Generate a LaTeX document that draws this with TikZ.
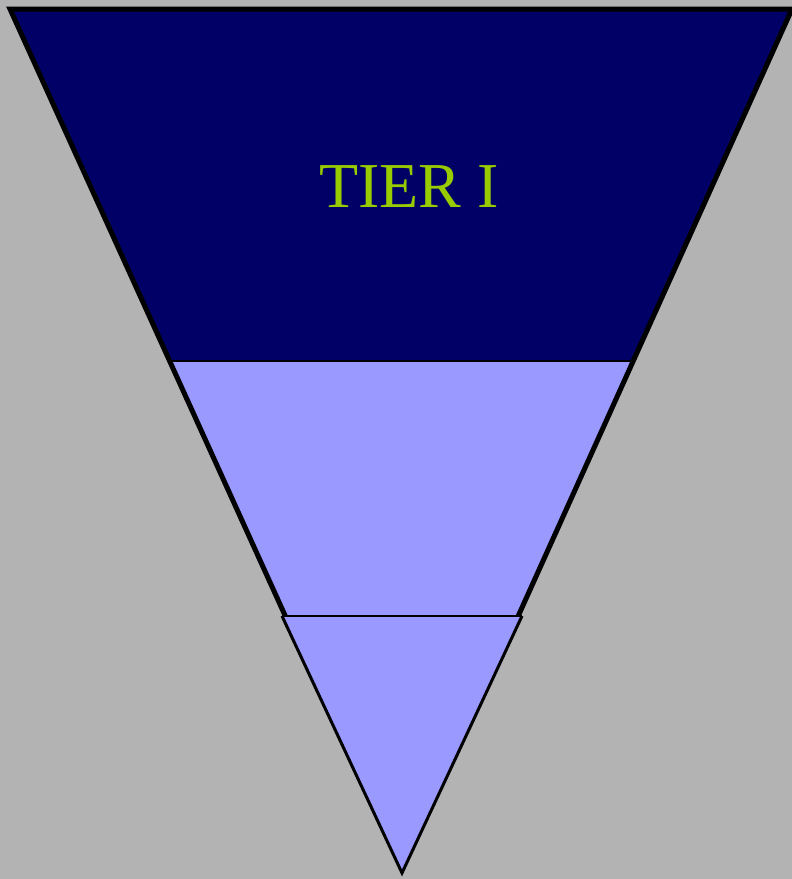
\documentclass[tikz,border=0pt]{standalone}
\usepackage{fontspec}
\setmainfont{Liberation Serif}
\definecolor{bggray}{HTML}{B3B3B3}
\definecolor{navy}{HTML}{000066}
\definecolor{lightblue}{HTML}{9999FF}
\definecolor{tiergreen}{HTML}{99CC00}
\begin{document}
\begin{tikzpicture}[x=1pt,y=-1pt,
  thinline/.style={line width=2pt,line join=miter},
  thickline/.style={line width=5pt,line join=miter}]
\fill[bggray] (0,0) rectangle (792,879);
\useasboundingbox (0,0) rectangle (792,879);
% tier I
\fill[navy] (10,9) -- (792,9) -- (633.4,361) -- (169.4,361) -- cycle;
% tier II
\fill[lightblue] (169.4,361) -- (633.4,361) -- (518.2,616) -- (285.3,616) -- cycle;
\draw[thinline] (169.4,361) -- (633.4,361);
% tier III
\fill[lightblue] (282,616) -- (522,616) -- (402,873) -- cycle;
\draw[thinline] (282,616) -- (522,616);
\draw[line width=3pt,line join=miter] (282,616) -- (402,873) -- (522,616);
% outer outline (upper part)
\draw[thickline] (285.3,616) -- (10,9) -- (792,9) -- (518.2,616);
\node[text=tiergreen,font=\fontsize{64}{64}\selectfont,inner sep=0pt] (tier1) at (409,187) {TIER I};
\end{tikzpicture}
\end{document}
